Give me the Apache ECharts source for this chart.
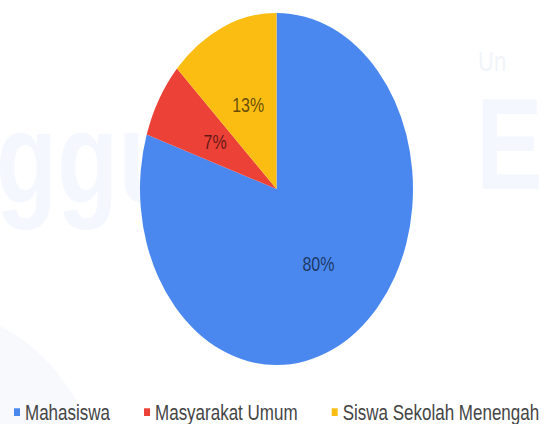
<!DOCTYPE html>
<html>
<head>
<meta charset="utf-8">
<script src="https://cdn.jsdelivr.net/npm/echarts@6/dist/echarts.min.js"></script>
<style>
  html, body { margin: 0; padding: 0; background: #fff; }
  body { width: 547px; height: 424px; }
  /* the source picture is stretched vertically, so the whole chart is scaled on Y */
  #chart {
    width: 547px;
    height: 329px;
    transform: scaleY(1.29);
    transform-origin: 0 0;
  }
</style>
</head>
<body>
<div id="chart"></div>
<script>
const categories = ['Mahasiswa', 'Masyarakat Umum', 'Siswa Sekolah Menengah']
const values = [80, 7, 13]
const colors = ['#4a88f0', '#ec4136', '#fbbd12']

const chart = echarts.init(document.getElementById('chart'), null, {renderer: 'svg'})

chart.setOption({
  animation: false,
  color: colors,
  // faint watermark of the slide behind the chart
  graphic: [
    {
      type: 'circle', z: -10, silent: true,
      shape: {cx: -60, cy: 412, r: 170},
      style: {fill: '#f7f9fd'}
    },
    {
      type: 'text', z: -10, silent: true, left: -4, top: 72,
      style: {text: 'ggul', font: 'bold 100px "Liberation Sans"', fill: '#f4f7fd'}
    },
    {
      type: 'text', z: -10, silent: true, left: 478, top: 36,
      style: {text: 'Un', font: '22px "Liberation Sans"', fill: '#f1f4f9'}
    },
    {
      type: 'text', z: -10, silent: true, left: 476, top: 62,
      style: {text: 'E', font: 'bold 100px "Liberation Sans"', fill: '#f4f7fd'}
    }
  ],
  legend: {
    data: categories,
    left: 14,
    top: 311,
    width: 540,
    padding: 0,
    icon: 'rect',
    itemWidth: 6,
    itemHeight: 6,
    itemGap: 34,
    textStyle: {
      fontFamily: 'Liberation Sans',
      fontSize: 17,
      color: '#454545'
    }
  },
  series: [
    {
      name: 'Peserta',
      type: 'pie',
      center: [276.5, 146.5],
      radius: 136.5,
      startAngle: 90,
      clockwise: true,
      label: {
        show: true,
        position: 'inside',
        formatter: '{d}%',
        fontFamily: 'Liberation Sans',
        fontSize: 16,
        color: 'rgba(0,0,0,0.62)'
      },
      labelLine: {show: false},
      itemStyle: {borderWidth: 0},
      data: categories.map((name, i) => ({name: name, value: values[i]}))
    }
  ]
})
</script>
</body>
</html>
